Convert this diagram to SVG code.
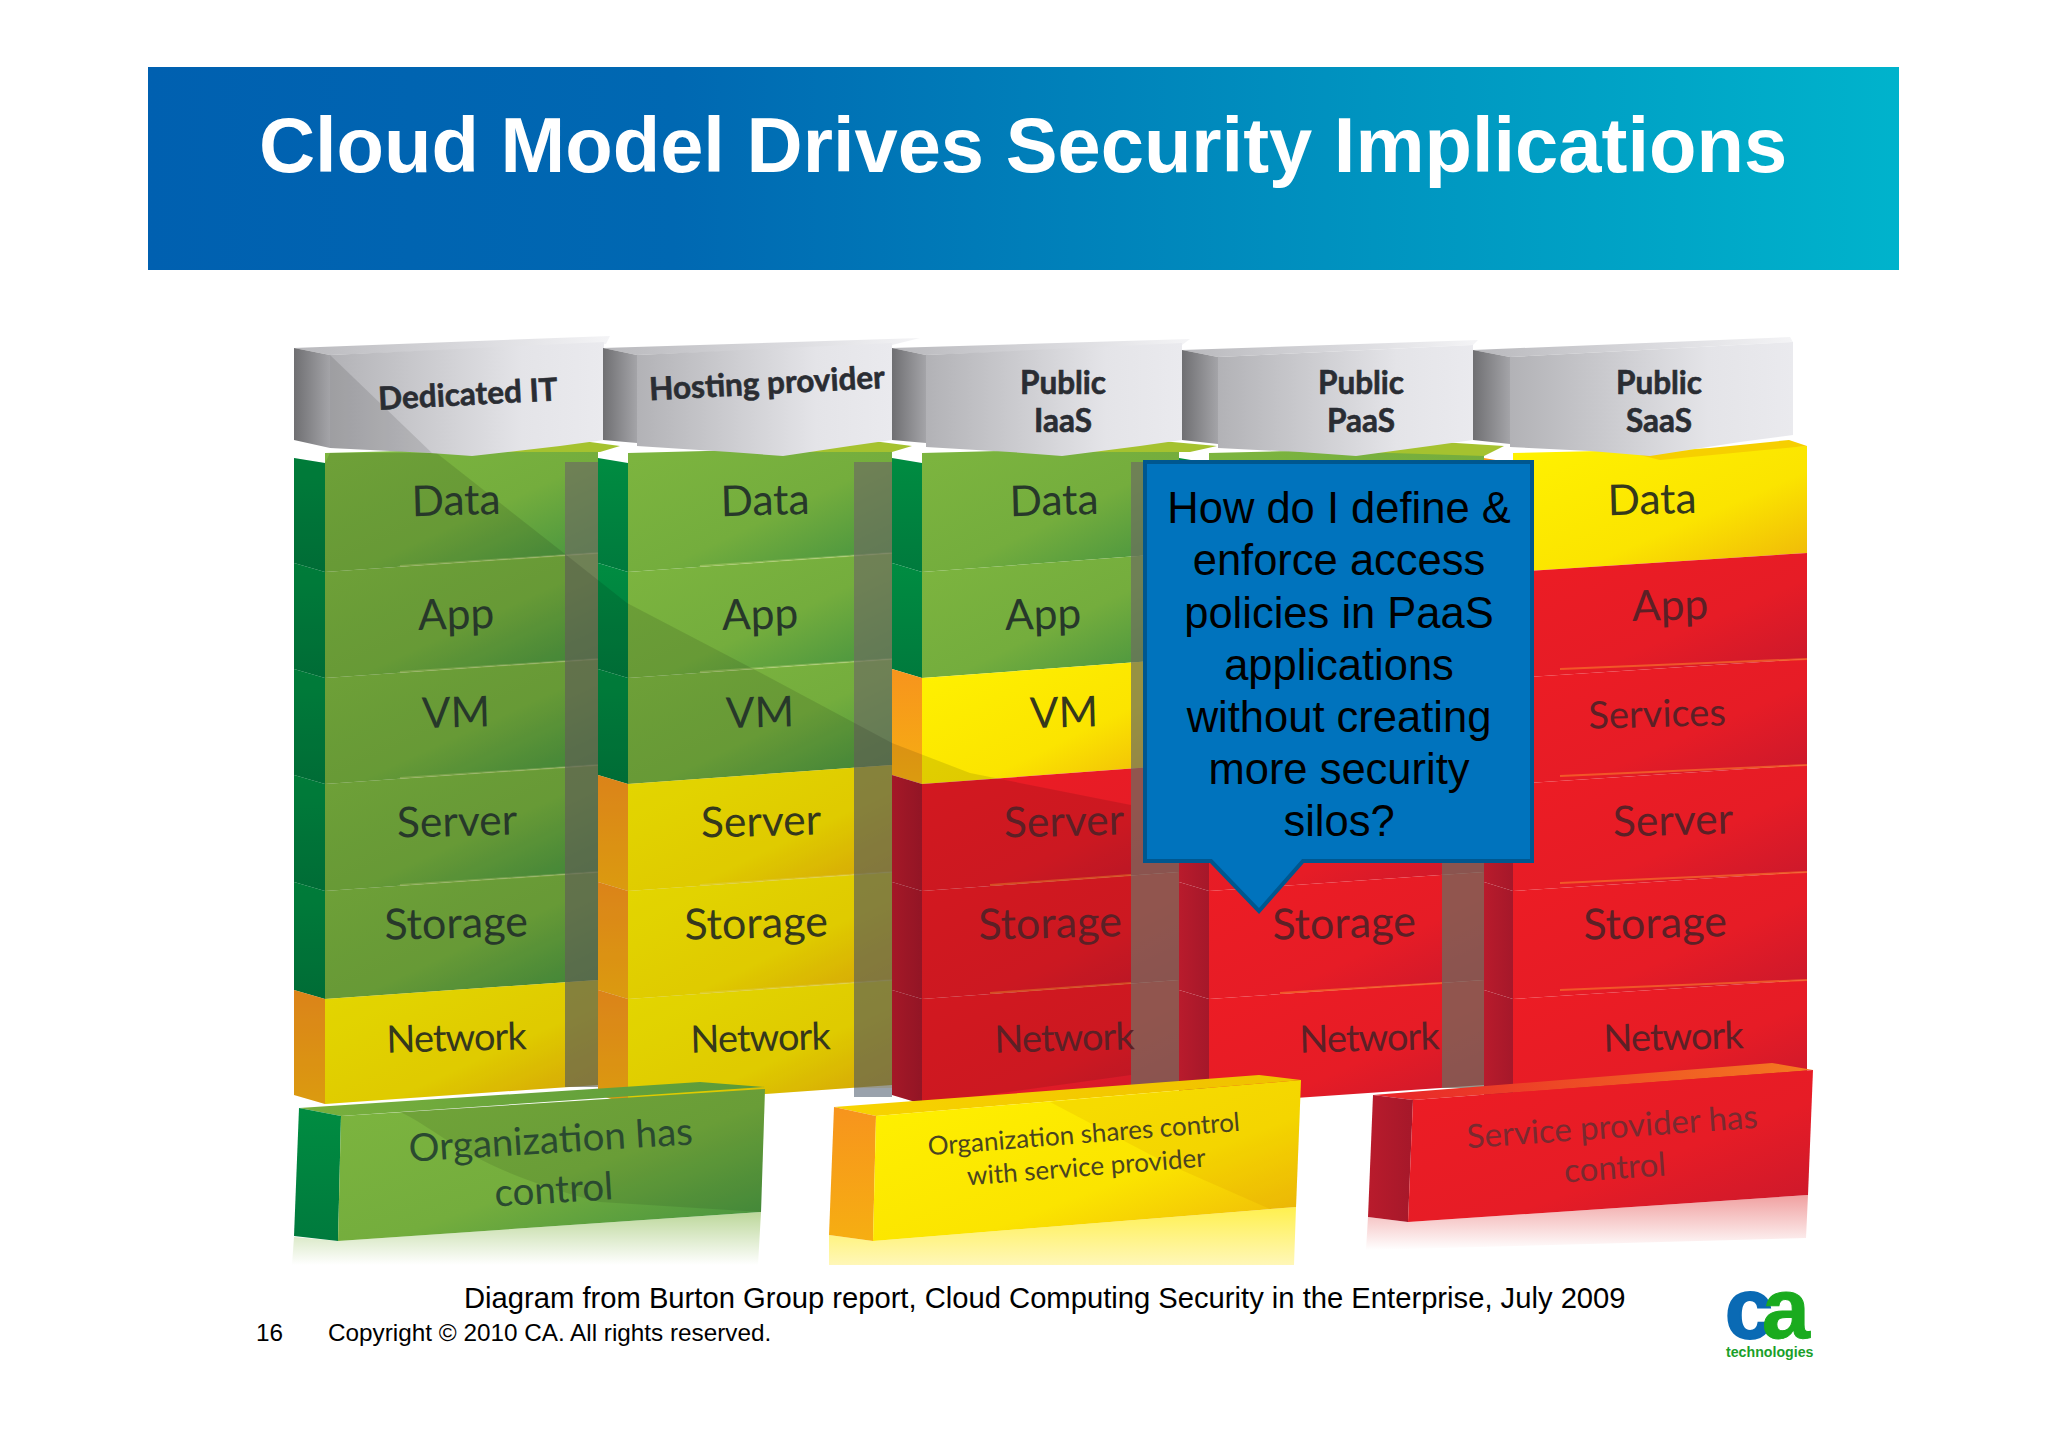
<svg xmlns="http://www.w3.org/2000/svg" width="2048" height="1447" viewBox="0 0 2048 1447">
<style>
text{font-family:"Liberation Sans",Arial,sans-serif}
.lb{font-family:Lato,"Liberation Sans",sans-serif;font-size:42.5px;text-anchor:middle}
.nw{font-size:38px;letter-spacing:-1px}.sv{font-size:38px}.st{font-size:43px}
.dk{fill:#27382a}.yk{fill:#35381c}.rk{fill:#5c2026}
.hd{font-family:Lato,"Liberation Sans",sans-serif;font-weight:700;font-size:31.5px;text-anchor:middle;fill:#2a2d33;stroke:#2a2d33;stroke-width:.6}
.gf{fill:url(#gf)}.yf{fill:url(#yf)}.rf{fill:url(#rf)}
.gs{fill:url(#gs)}.ys{fill:url(#ys)}.rs{fill:url(#rs)}
.hf{fill:url(#hf)}.hs{fill:url(#hs)}.ht{fill:url(#ht)}
.strip{fill:#6c6e60;opacity:.7}
.shade{fill:#000;opacity:.11}
.sep{fill:none;stroke:#fff6a0;stroke-opacity:.25;stroke-width:2}
.sepr{fill:none;stroke:#f7702a;stroke-opacity:.7;stroke-width:2}
.sl{fill:#a5c22f}
.q{font-size:43.5px;text-anchor:middle;fill:#000}
.bx{font-family:Lato,"Liberation Sans",sans-serif;text-anchor:middle}
</style>
<defs>
<linearGradient id="ban"><stop offset="0" stop-color="#0060b0"/><stop offset=".3" stop-color="#0068b2"/><stop offset=".7" stop-color="#0094c0"/><stop offset="1" stop-color="#00b3cc"/></linearGradient>
<linearGradient id="gf" x2="1" y2="1"><stop offset="0" stop-color="#7db53f"/><stop offset=".55" stop-color="#74ad3d"/><stop offset="1" stop-color="#409040"/></linearGradient>
<linearGradient id="yf" x2="1" y2="1"><stop offset="0" stop-color="#fff200"/><stop offset=".6" stop-color="#fbe400"/><stop offset="1" stop-color="#eeb30a"/></linearGradient>
<linearGradient id="rf" x2="1" y2="1"><stop offset="0" stop-color="#ed1c24"/><stop offset=".6" stop-color="#e61c26"/><stop offset="1" stop-color="#c8182c"/></linearGradient>
<linearGradient id="gs" x2="0" y2="1"><stop offset="0" stop-color="#008c41"/><stop offset="1" stop-color="#007a3d"/></linearGradient>
<linearGradient id="ys" x2="0" y2="1"><stop offset="0" stop-color="#f7941d"/><stop offset="1" stop-color="#f6ae12"/></linearGradient>
<linearGradient id="rs"><stop offset="0" stop-color="#b91b2c"/><stop offset="1" stop-color="#a5182a"/></linearGradient>
<linearGradient id="hf"><stop offset="0" stop-color="#b2b2b6"/><stop offset=".7" stop-color="#e4e4e8"/><stop offset="1" stop-color="#eaeaee"/></linearGradient>
<linearGradient id="hs"><stop offset="0" stop-color="#6f6f72"/><stop offset="1" stop-color="#a4a4a8"/></linearGradient>
<linearGradient id="ht"><stop offset="0" stop-color="#b8b8bc"/><stop offset=".6" stop-color="#dcdce0"/><stop offset="1" stop-color="#f4f4f6"/></linearGradient>
<linearGradient id="rg" x2="0" y2="1"><stop offset="0" stop-color="#bcd79a"/><stop offset="1" stop-color="#fff"/></linearGradient>
<linearGradient id="ry" x2="0" y2="1"><stop offset="0" stop-color="#fff04e"/><stop offset="1" stop-color="#fff7b8"/></linearGradient>
<linearGradient id="rr" x2="0" y2="1"><stop offset="0" stop-color="#f0a0a0"/><stop offset="1" stop-color="#fff"/></linearGradient>
<linearGradient id="ytop"><stop offset="0" stop-color="#f7d400"/><stop offset="1" stop-color="#f0c000"/></linearGradient>
<linearGradient id="rtop"><stop offset="0" stop-color="#e8242a"/><stop offset="1" stop-color="#f47a20"/></linearGradient>
<linearGradient id="gtop"><stop offset="0" stop-color="#79b03d"/><stop offset="1" stop-color="#5a9a3a"/></linearGradient>
</defs>
<rect width="2048" height="1447" fill="#fff"/>
<g id="banner">
<rect x="148" y="67" width="1751" height="203" fill="url(#ban)"/>
<text x="1023" y="172" font-size="77.7" font-weight="700" fill="#fff" text-anchor="middle">Cloud Model Drives Security Implications</text>
</g>

<g id="column-dedicated-it">
<polygon class="gs" points="294,458 325,463 325,572 294,563"/><polygon class="gf" points="325,453 598,446 598,553 325,572"/>
<polygon class="gs" points="294,563 325,572 325,678 294,669"/><polygon class="gf" points="325,572 598,553 598,659 325,678"/>
<polygon class="gs" points="294,669 325,678 325,784 294,775"/><polygon class="gf" points="325,678 598,659 598,765 325,784"/>
<polygon class="gs" points="294,775 325,784 325,891 294,882"/><polygon class="gf" points="325,784 598,765 598,872 325,891"/>
<polygon class="gs" points="294,882 325,891 325,999 294,990"/><polygon class="gf" points="325,891 598,872 598,980 325,999"/>
<polygon class="ys" points="294,990 325,999 325,1104 294,1095"/><polygon class="yf" points="325,999 598,980 598,1085 325,1104"/>
<path class="sep" d="M400 566L598 553M400 672L598 659M400 778L598 765M400 885L598 872"/>
<rect class="strip" x="565" y="462" width="33" height="625"/>
</g>
<g id="column-hosting-provider">
<polygon class="gs" points="598,458 628,463 628,572 598,563"/><polygon class="gf" points="628,453 892,446 892,553 628,572"/>
<polygon class="gs" points="598,563 628,572 628,678 598,669"/><polygon class="gf" points="628,572 892,553 892,659 628,678"/>
<polygon class="gs" points="598,669 628,678 628,784 598,775"/><polygon class="gf" points="628,678 892,659 892,765 628,784"/>
<polygon class="ys" points="598,775 628,784 628,891 598,882"/><polygon class="yf" points="628,784 892,765 892,872 628,891"/>
<polygon class="ys" points="598,882 628,891 628,999 598,990"/><polygon class="yf" points="628,891 892,872 892,980 628,999"/>
<polygon class="ys" points="598,990 628,999 628,1104 598,1095"/><polygon class="yf" points="628,999 892,980 892,1085 628,1104"/>
<path class="sep" d="M700 566L892 553M700 672L892 659M700 885L892 872M700 993L892 980"/>
<rect class="strip" x="854" y="462" width="38" height="626"/>
<rect x="854" y="1088" width="38" height="9" fill="#9aa2ac"/>
</g>
<g id="column-public-iaas">
<polygon class="gs" points="892,458 922,463 922,572 892,563"/><polygon class="gf" points="922,453 1179,446 1179,553 922,572"/>
<polygon class="gs" points="892,563 922,572 922,678 892,669"/><polygon class="gf" points="922,572 1179,553 1179,659 922,678"/>
<polygon class="ys" points="892,669 922,678 922,784 892,775"/><polygon class="yf" points="922,678 1179,659 1179,765 922,784"/>
<polygon class="rs" points="892,775 922,784 922,891 892,882"/><polygon class="rf" points="922,784 1179,765 1179,872 922,891"/>
<polygon class="rs" points="892,882 922,891 922,999 892,990"/><polygon class="rf" points="922,891 1179,872 1179,980 922,999"/>
<polygon class="rs" points="892,990 922,999 922,1104 892,1095"/><polygon class="rf" points="922,999 1179,980 1179,1085 922,1104"/>
<path class="sepr" d="M990 885L1131 875M990 993L1131 983"/>
<rect class="strip" x="1131" y="462" width="48" height="626"/>
</g>
<g id="column-public-paas">
<polygon class="gs" points="1179,458 1209,463 1209,572 1179,563"/><polygon class="gf" points="1209,453 1484,446 1484,553 1209,572"/>
<polygon class="rs" points="1179,775 1209,784 1209,891 1179,882"/><polygon class="rf" points="1209,784 1484,765 1484,872 1209,891"/>
<polygon class="rs" points="1179,882 1209,891 1209,999 1179,990"/><polygon class="rf" points="1209,891 1484,872 1484,980 1209,999"/>
<polygon class="rs" points="1179,990 1209,999 1209,1104 1179,1095"/><polygon class="rf" points="1209,999 1484,980 1484,1085 1209,1104"/>
<path class="sepr" d="M1280 993L1442 983"/>
<rect class="strip" x="1442" y="462" width="42" height="626"/>
</g>
<g id="column-public-saas">
<polygon class="ys" points="1484,458 1513,463 1513,572 1484,563"/><polygon class="yf" points="1513,453 1807,446 1807,553 1513,572"/>
<polygon class="rs" points="1484,563 1513,572 1513,678 1484,669"/><polygon class="rf" points="1513,572 1807,553 1807,659 1513,678"/>
<polygon class="rs" points="1484,669 1513,678 1513,784 1484,775"/><polygon class="rf" points="1513,678 1807,659 1807,765 1513,784"/>
<polygon class="rs" points="1484,775 1513,784 1513,891 1484,882"/><polygon class="rf" points="1513,784 1807,765 1807,872 1513,891"/>
<polygon class="rs" points="1484,882 1513,891 1513,999 1484,990"/><polygon class="rf" points="1513,891 1807,872 1807,980 1513,999"/>
<polygon class="rs" points="1484,990 1513,999 1513,1104 1484,1095"/><polygon class="rf" points="1513,999 1807,980 1807,1085 1513,1104"/>
<path class="sepr" d="M1560 669L1807 659M1560 776L1807 765M1560 883L1807 872M1560 990L1807 980"/>
</g>
<polygon id="diagonal-shade" class="shade" points="420,440 560,550 627,603 761,673 892,743 970,773 1131,805 1131,1075 922,1104 892,1095 892,1085 628,1104 598,1095 598,1085 325,1104 294,1095 294,458 325,463 330,453 432,453"/>

<g id="headers">
<g id="header-dedicated-it">
<polygon class="sl" points="500,452 575,440 620,446 600,452"/>
<polygon class="ht" points="294,348 610,336 606,344 330,355"/>
<polygon class="hs" points="294,348 330,355 330,448 294,440"/>
<polygon class="hf" points="330,355 604,342 604,440 560,446 472,456 430,453 330,448"/>
<polygon class="shade" points="330,355 432,453 330,448"/>
<text class="hd" x="468" y="405" transform="rotate(-3 468 395)">Dedicated IT</text>
</g>
<g id="header-hosting-provider">
<polygon class="sl" points="800,452 865,440 912,446 892,452"/>
<polygon class="ht" points="603,348 920,338 892,345 637,355"/>
<polygon class="hs" points="603,348 637,355 637,443 603,440"/>
<polygon class="hf" points="637,355 892,343 892,440 850,446 783,456 730,452 637,446"/>
<text class="hd" x="767" y="394" transform="rotate(-3 767 384)">Hosting provider</text>
</g>
<g id="header-public-iaas">
<polygon class="sl" points="1090,452 1150,440 1217,446 1190,452"/>
<polygon class="ht" points="892,348 1190,339 1182,345 926,355"/>
<polygon class="hs" points="892,348 926,355 926,443 892,440"/>
<polygon class="hf" points="926,355 1182,343 1182,440 1140,446 1062,456 1010,452 926,447"/>
<text class="hd" x="1063" y="394">Public</text><text class="hd" x="1063" y="432">IaaS</text>
</g>
<g id="header-public-paas">
<polygon class="sl" points="1360,452 1440,442 1504,446 1484,456"/>
<polygon class="ht" points="1182,350 1478,340 1473,345 1218,357"/>
<polygon class="hs" points="1182,350 1218,357 1218,444 1182,440"/>
<polygon class="hf" points="1218,357 1473,345 1473,440 1430,446 1356,456 1300,452 1218,448"/>
<text class="hd" x="1361" y="394">Public</text><text class="hd" x="1361" y="432">PaaS</text>
</g>
<g id="header-public-saas">
<polygon points="1640,455 1789,440 1807,446 1660,460" fill="#f6cf00"/>
<polygon class="ht" points="1473,350 1790,337 1793,342 1510,357"/>
<polygon class="hs" points="1473,350 1510,357 1510,444 1473,440"/>
<polygon class="hf" points="1510,357 1793,342 1793,435 1740,442 1650,456 1590,451 1510,447"/>
<text class="hd" x="1659" y="394">Public</text><text class="hd" x="1659" y="432">SaaS</text>
</g>
</g>

<g id="stack-labels">
<text class="lb dk" x="456" y="515" transform="rotate(-1.5 456 500)">Data</text><text class="lb dk" x="456" y="629" transform="rotate(-1.5 456 615)">App</text><text class="lb dk" x="456" y="727" transform="rotate(-1.5 456 712)">VM</text><text class="lb dk" x="457" y="836" transform="rotate(-1.5 457 821)">Server</text><text class="lb st dk" x="456" y="938" transform="rotate(-1.5 456 923)">Storage</text><text class="lb nw yk" x="456" y="1051" transform="rotate(-1.5 456 1036)">Network</text>
<text class="lb dk" x="765" y="515" transform="rotate(-1.5 765 500)">Data</text><text class="lb dk" x="760" y="629" transform="rotate(-1.5 760 615)">App</text><text class="lb dk" x="760" y="727" transform="rotate(-1.5 760 712)">VM</text><text class="lb yk" x="761" y="836" transform="rotate(-1.5 761 821)">Server</text><text class="lb st yk" x="756" y="938" transform="rotate(-1.5 756 923)">Storage</text><text class="lb nw yk" x="760" y="1051" transform="rotate(-1.5 760 1036)">Network</text>
<text class="lb dk" x="1054" y="515" transform="rotate(-1.5 1054 500)">Data</text><text class="lb dk" x="1043" y="629" transform="rotate(-1.5 1043 615)">App</text><text class="lb yk" x="1064" y="727" transform="rotate(-1.5 1064 712)">VM</text><text class="lb rk" x="1064" y="836" transform="rotate(-1.5 1064 821)">Server</text><text class="lb st rk" x="1050" y="938" transform="rotate(-1.5 1050 923)">Storage</text><text class="lb nw rk" x="1064" y="1051" transform="rotate(-1.5 1064 1036)">Network</text>
<text class="lb st rk" x="1344" y="938" transform="rotate(-1.5 1344 923)">Storage</text><text class="lb nw rk" x="1369" y="1051" transform="rotate(-1.5 1369 1036)">Network</text>
<text class="lb yk" x="1652" y="514" transform="rotate(-1.5 1652 500)">Data</text><text class="lb rk" x="1670" y="620" transform="rotate(-1.5 1670 605)">App</text><text class="lb sv rk" x="1657" y="727" transform="rotate(-1.5 1657 712)">Services</text><text class="lb rk" x="1673" y="835" transform="rotate(-1.5 1673 820)">Server</text><text class="lb st rk" x="1655" y="938" transform="rotate(-1.5 1655 923)">Storage</text><text class="lb nw rk" x="1673" y="1050" transform="rotate(-1.5 1673 1035)">Network</text>
</g>

<g id="legend-organization">
<polygon points="294,1237 338,1241 761,1212 758,1265 292,1265" fill="url(#rg)"/>
<polygon points="299,1108 700,1082 765,1087 341,1116" fill="url(#gtop)"/>
<polygon points="299,1108 341,1116 338,1241 294,1236" fill="url(#gs)"/>
<polygon points="341,1116 765,1089 761,1212 338,1241" fill="url(#gf)"/>
<path d="M400 1112C440 1130 470 1170 600 1202L761 1212L765 1089Z" fill="#000" opacity=".09"/>
<g transform="rotate(-3.5 552 1145)">
<text class="bx" x="551" y="1153" font-size="38.5" fill="#2a4a30">Organization has</text>
<text class="bx" x="551" y="1203" font-size="38.5" fill="#2a4a30">control</text>
</g>
</g>
<g id="legend-shared">
<polygon points="829,1235 873,1241 1296,1207 1294,1265 829,1265" fill="url(#ry)"/>
<polygon points="834,1107 1259,1075 1301,1080 876,1116" fill="url(#ytop)"/>
<polygon points="834,1107 876,1116 873,1241 829,1235" fill="url(#ys)"/>
<polygon points="876,1116 1301,1080 1296,1207 873,1241" fill="url(#yf)"/>
<polygon points="1050,1102 1301,1080 1296,1207 1270,1209 1170,1165" fill="#d08000" opacity=".14"/>
<g transform="rotate(-4.5 1085 1150)">
<text class="bx" x="1085" y="1143" font-size="26" fill="#4a4420">Organization shares control</text>
<text class="bx" x="1085" y="1176" font-size="26" fill="#4a4420">with service provider</text>
</g>
</g>
<g id="legend-provider">
<polygon points="1368,1217 1408,1222 1808,1195 1806,1238 1366,1250" fill="url(#rr)"/>
<polygon points="1373,1095 1772,1063 1813,1070 1413,1100" fill="url(#rtop)"/>
<polygon points="1373,1095 1413,1100 1408,1222 1368,1217" fill="url(#rs)"/>
<polygon points="1413,1100 1813,1070 1808,1195 1408,1222" fill="url(#rf)"/>
<g transform="rotate(-4 1613 1140)">
<text class="bx" x="1613" y="1138" font-size="33" fill="#7a2a30">Service provider has</text>
<text class="bx" x="1613" y="1179" font-size="33" fill="#7a2a30">control</text>
</g>
</g>

<g id="callout">
<polygon points="1145,462 1532,462 1532,861 1303,861 1259,911 1211,861 1145,861" fill="#0073bd" stroke="#00578f" stroke-width="4"/>
<text class="q" x="1339" y="523">How do I define &amp;</text>
<text class="q" x="1339" y="575">enforce access</text>
<text class="q" x="1339" y="628">policies in PaaS</text>
<text class="q" x="1339" y="680">applications</text>
<text class="q" x="1339" y="732">without creating</text>
<text class="q" x="1339" y="784">more security</text>
<text class="q" x="1339" y="836">silos?</text>
</g>

<g id="footer">
<text x="464" y="1308" font-size="29.2" fill="#000">Diagram from Burton Group report, Cloud Computing Security in the Enterprise, July 2009</text>
<text x="256" y="1341" font-size="24.3" fill="#000">16</text>
<text x="328" y="1341" font-size="24.3" fill="#000">Copyright © 2010 CA. All rights reserved.</text>
</g>
<g id="logo">
<text x="1725" y="1338" font-size="86" font-weight="700"><tspan fill="#0a6ab4" stroke="#0a6ab4" stroke-width="2">c</tspan><tspan dx="-10.8" fill="#1aab1e" stroke="#1aab1e" stroke-width="1">a</tspan><tspan dx="-7" font-size="8" font-weight="400" fill="#1aab1e">®</tspan></text>
<text x="1726" y="1357" font-size="14.2" font-weight="700" fill="#1aa02a">technologies</text>
</g>
</svg>
